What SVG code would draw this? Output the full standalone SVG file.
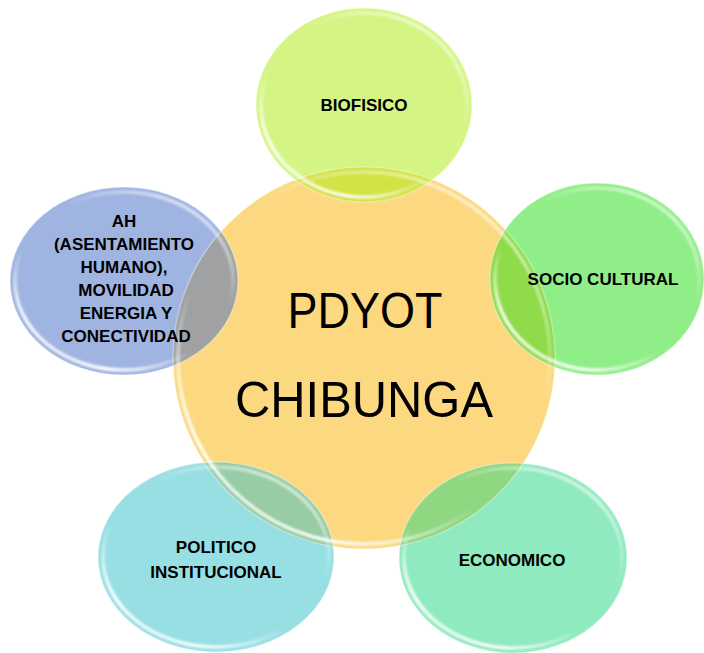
<svg xmlns="http://www.w3.org/2000/svg" width="704" height="653" viewBox="0 0 704 653">
<defs>
<linearGradient id="rim" x1="0.85" y1="0" x2="0.1" y2="1">
<stop offset="0" stop-color="#fff" stop-opacity="0.75"/>
<stop offset="0.35" stop-color="#fff" stop-opacity="0"/>
<stop offset="0.6" stop-color="#fff" stop-opacity="0"/>
<stop offset="0.85" stop-color="#fff" stop-opacity="0.95"/>
<stop offset="1" stop-color="#fff" stop-opacity="0.3"/>
</linearGradient>
<filter id="soft" x="-10%" y="-10%" width="120%" height="120%"><feGaussianBlur stdDeviation="1"/></filter>
</defs>
<style>
.sat{fill-opacity:0.5;stroke:#fff;stroke-opacity:0.35;stroke-width:1.5}
.hl{fill:none;stroke:url(#rim);stroke-width:3.5;filter:url(#soft)}
.lbl{font-family:"Liberation Sans",Arial,sans-serif;font-weight:bold;font-size:17px;fill:#000;text-anchor:middle}
.big{font-family:"Liberation Sans",Arial,sans-serif;font-size:50px;fill:#000;text-anchor:middle}
</style>
<rect width="704" height="653" fill="#fff"/>
<g id="center">
<circle cx="364" cy="358" r="191" fill="#FCD980"/>
</g>
<g id="connectors"/>
<g id="biofisico">
<ellipse class="sat" cx="364" cy="105" rx="108" ry="97" fill="#A9EB09"/>
<ellipse class="hl" cx="364" cy="105" rx="103" ry="92"/>
</g>
<g id="ah">
<ellipse class="sat" cx="124" cy="281" rx="114" ry="94" fill="#4169C5"/>
<ellipse class="hl" cx="124" cy="281" rx="109" ry="89"/>
</g>
<g id="socio">
<ellipse class="sat" cx="597" cy="279" rx="107" ry="96" fill="#21DD11"/>
<ellipse class="hl" cx="597" cy="279" rx="102" ry="91"/>
</g>
<g id="politico">
<ellipse class="sat" cx="216" cy="557" rx="118" ry="95" fill="#31BFC9"/>
<ellipse class="hl" cx="216" cy="557" rx="113" ry="90"/>
</g>
<g id="economico">
<ellipse class="sat" cx="513" cy="558" rx="114" ry="95" fill="#21D581"/>
<ellipse class="hl" cx="513" cy="558" rx="109" ry="90"/>
</g>
<g id="center-rim">
<circle cx="364" cy="358" r="191" fill="none" stroke="#fff" stroke-opacity="0.35" stroke-width="1.5"/>
<circle class="hl" cx="364" cy="358" r="186"/>
</g>
<g id="labels">
<text class="big" x="365" y="328" textLength="155" lengthAdjust="spacingAndGlyphs">PDYOT</text>
<text class="big" x="364" y="417" textLength="258" lengthAdjust="spacingAndGlyphs">CHIBUNGA</text>
<text class="lbl" x="364" y="111">BIOFISICO</text>
<text class="lbl" x="603" y="285">SOCIO CULTURAL</text>
<text class="lbl" x="216" y="553">POLITICO</text>
<text class="lbl" x="216" y="578">INSTITUCIONAL</text>
<text class="lbl" x="512" y="566">ECONOMICO</text>
<text class="lbl" x="124" y="227">AH</text>
<text class="lbl" x="124" y="250">(ASENTAMIENTO</text>
<text class="lbl" x="124" y="273">HUMANO),</text>
<text class="lbl" x="126" y="296">MOVILIDAD</text>
<text class="lbl" x="126" y="319">ENERGIA Y</text>
<text class="lbl" x="126" y="342">CONECTIVIDAD</text>
</g>
</svg>
